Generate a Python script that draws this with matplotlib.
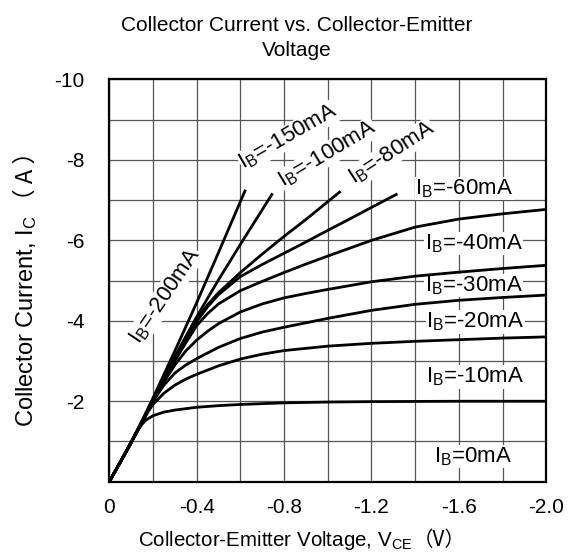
import numpy as np
import matplotlib
matplotlib.use('Agg')
import matplotlib.pyplot as plt

plt.rcParams['font.family'] = ['Liberation Sans', 'Noto Sans CJK SC']
plt.rcParams['mathtext.fontset'] = 'custom'
plt.rcParams['mathtext.rm'] = 'Liberation Sans'
plt.rcParams['mathtext.it'] = 'Liberation Sans:italic'

# Curve data (magnitudes: |VCE| in V, |IC| in A)
v_c1 = [0, 0.05, 0.1, 0.13, 0.15, 0.17, 0.2, 0.25, 0.3, 0.4, 0.5, 0.6, 0.8, 1.0, 1.2, 1.6, 2.0]
i_c1 = [0, 0.48, 0.97, 1.27, 1.43, 1.54, 1.64, 1.73, 1.78, 1.85, 1.89, 1.92, 1.96, 1.98, 1.99, 2.0, 2.0]

v_c2 = [0, 0.05, 0.1, 0.15, 0.175, 0.2, 0.25, 0.3, 0.35, 0.4, 0.5, 0.6, 0.7, 0.8, 1.0, 1.2, 1.4, 1.6, 1.8, 2.0]
i_c2 = [0, 0.48, 0.97, 1.48, 1.72, 1.92, 2.2, 2.4, 2.55, 2.67, 2.88, 3.05, 3.17, 3.26, 3.37, 3.44, 3.49, 3.53, 3.57, 3.6]

v_c3 = [0, 0.05, 0.1, 0.15, 0.2, 0.225, 0.25, 0.3, 0.35, 0.4, 0.5, 0.6, 0.7, 0.8, 1.0, 1.2, 1.4, 1.6, 1.8, 2.0]
i_c3 = [0, 0.48, 0.97, 1.48, 1.98, 2.2, 2.4, 2.7, 2.9, 3.06, 3.34, 3.56, 3.72, 3.84, 4.06, 4.26, 4.41, 4.51, 4.58, 4.64]

v_c45 = [0, 0.05, 0.1, 0.15, 0.2, 0.25, 0.3, 0.35, 0.4, 0.45, 0.5, 0.6, 0.7, 0.8, 0.9, 1.0, 1.2, 1.4, 1.6, 1.8, 2.0]
i_c4 = [0, 0.48, 0.97, 1.48, 2.0, 2.48, 2.9, 3.25, 3.52, 3.74, 3.93, 4.22, 4.42, 4.57, 4.68, 4.78, 4.97, 5.11, 5.21, 5.30, 5.38]
i_c5 = [0, 0.48, 0.97, 1.48, 2.0, 2.52, 3.0, 3.45, 3.88, 4.18, 4.42, 4.75, 4.98, 5.2, 5.41, 5.61, 6.0, 6.33, 6.53, 6.66, 6.77]

v_c6 = [0, 0.05, 0.1, 0.15, 0.2, 0.25, 0.3, 0.35, 0.4, 0.45, 0.5, 0.6, 0.7, 0.8, 0.9, 1.0, 1.1, 1.2, 1.313]
i_c6 = [0, 0.48, 0.97, 1.48, 2.02, 2.55, 3.05, 3.55, 3.98, 4.35, 4.65, 5.1, 5.4, 5.68, 5.96, 6.25, 6.53, 6.82, 7.14]

v_c7 = [0, 0.05, 0.1, 0.15, 0.2, 0.25, 0.3, 0.35, 0.4, 0.45, 0.5, 0.6, 0.7, 0.8, 0.9, 1.054]
i_c7 = [0, 0.48, 0.97, 1.48, 2.03, 2.57, 3.1, 3.6, 4.05, 4.4, 4.7, 5.2, 5.66, 6.1, 6.52, 7.2]

v_c8 = [0, 0.05, 0.1, 0.15, 0.2, 0.3, 0.4, 0.5, 0.6, 0.744]
i_c8 = [0, 0.48, 0.98, 1.5, 2.04, 3.1, 4.1, 5.02, 5.9, 7.14]

v_c9 = [0, 0.05, 0.1, 0.15, 0.2, 0.3, 0.4, 0.5, 0.621]
i_c9 = [0, 0.49, 0.99, 1.52, 2.08, 3.25, 4.45, 5.7, 7.23]

curves = [(v_c1, i_c1), (v_c2, i_c2), (v_c3, i_c3), (v_c45, i_c4), (v_c45, i_c5),
          (v_c6, i_c6), (v_c7, i_c7), (v_c8, i_c8), (v_c9, i_c9)]

# curve labels: text, |V|, |I|, rotation
label_text = ['-150mA', '-100mA', '-80mA', '-60mA', '-40mA', '-30mA', '-20mA', '-10mA', '0mA', '-200mA']
label_v = [0.82, 0.998, 1.293, 1.624, 1.667, 1.667, 1.675, 1.675, 1.667, 0.255]
label_i = [8.58, 8.14, 8.17, 7.29, 5.92, 4.88, 3.97, 2.6, 0.62, 4.62]
label_rot = [30, 31, 33, 0, 0, 0, 0, 0, 0, 56]

x_ticks = [0, -0.4, -0.8, -1.2, -1.6, -2.0]
x_ticklabels = ['0', '-0.4', '-0.8', '-1.2', '-1.6', '-2.0']
y_ticks = [-2, -4, -6, -8, -10]
y_ticklabels = ['-2', '-4', '-6', '-8', '-10']

W, H = 568, 552
fig = plt.figure(figsize=(W / 100, H / 100), dpi=100)
ax = fig.add_axes([0.1924, 0.1274, 0.7694, 0.7286])

for v, i in curves:
    ax.plot(-np.array(v), -np.array(i), color='black', lw=2.0, zorder=3)

for t, v, i, r in zip(label_text, label_v, label_i, label_rot):
    ax.text(-v, -i, r'I$_{\mathrm{B}}$=' + t, fontsize=16, rotation=r,
            rotation_mode='anchor', ha='center', va='center', zorder=2,
            bbox=dict(facecolor='white', edgecolor='none', pad=0.3))

ax.set_xlim(0, -2.0)
ax.set_ylim(0, -10)
ax.set_xticks(x_ticks)
ax.set_xticklabels(x_ticklabels)
ax.set_yticks(y_ticks)
ax.set_yticklabels(y_ticklabels)
ax.set_xticks(np.arange(0, -2.01, -0.2), minor=True)
ax.set_yticks(np.arange(0, -10.01, -1), minor=True)
ax.grid(True, which='both', color='#555555', lw=0.9, zorder=1)
ax.set_axisbelow(True)
ax.tick_params(which='both', length=0)
ax.tick_params(axis='x', pad=12, labelsize=15)
ax.tick_params(axis='y', pad=18, labelsize=15)
for s in ax.spines.values():
    s.set_linewidth(1.6)
    s.set_zorder(5)

# title, two lines placed on their baselines
fig.text(297 / W, 1 - 31 / H, 'Collector Current vs. Collector-Emitter', ha='center', va='baseline', fontsize=15)
fig.text(297 / W, 1 - 56 / H, 'Voltage', ha='center', va='baseline', fontsize=15)

# axis titles: latin part + full-width bracket part in a CJK font
r = fig.canvas.get_renderer()
xa = fig.text(0, 0, r'Collector-Emitter Voltage, V$_{\mathrm{CE}}$', fontsize=14.8,
              ha='left', va='baseline')
xb = fig.text(0, 0, '（V）', fontsize=14.8, family=['Noto Sans CJK SC'], ha='left', va='baseline')
wa = xa.get_window_extent(r).width
wb = xb.get_window_extent(r).width
x0 = 302 - (wa + wb) / 2
xa.set_position((x0 / W, 1 - 546 / H))
xb.set_position(((x0 + wa) / W, 1 - 546 / H))

# measure the y title pieces unrotated, then draw them rotated
ya_s = r'Collector Current, I$_{\mathrm{C}}$'
yb_s = '（ A ）'
gap = 4
tmp_a = fig.text(0, 0, ya_s, fontsize=17)
tmp_b = fig.text(0, 0, yb_s, fontsize=17, family=['Noto Sans CJK SC'])
la = tmp_a.get_window_extent(r).width
lb = tmp_b.get_window_extent(r).width
tmp_a.remove()
tmp_b.remove()
y0 = 283.5 + (la + gap + lb) / 2
fig.text(33 / W, 1 - y0 / H, ya_s, fontsize=17, rotation=90,
         rotation_mode='anchor', ha='left', va='baseline')
fig.text(33 / W, 1 - (y0 - la - gap) / H, yb_s, fontsize=17, family=['Noto Sans CJK SC'], rotation=90,
         rotation_mode='anchor', ha='left', va='baseline')

fig.savefig('out.png', dpi=100)
